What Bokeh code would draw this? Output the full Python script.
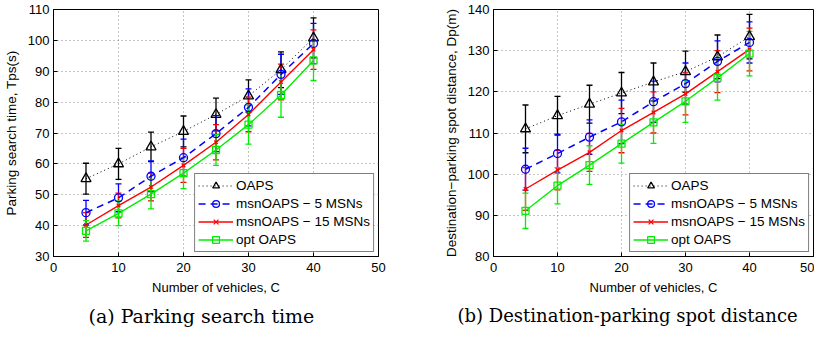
from bokeh.plotting import figure
from bokeh.models import (ColumnDataSource, Whisker, TeeHead, Range1d, Legend,
                          LegendItem, Title, FixedTicker)
from bokeh.layouts import row
from bokeh.embed import file_html
from bokeh.resources import INLINE

# ---------------- data ----------------
vehicles = [5, 10, 15, 20, 25, 30, 35, 40]

series_labels = ["OAPS", "msnOAPS \u2212 5 MSNs", "msnOAPS \u2212 15 MSNs", "opt OAPS"]

# (a) parking search time, Tps(s)
oaps_t = [55.2, 60.0, 65.5, 70.5, 76.0, 82.0, 90.5, 100.8]
oaps_t_err = [5.0, 5.0, 4.8, 5.0, 5.3, 5.2, 5.8, 6.5]
msn5_t = [44.2, 49.0, 56.0, 62.0, 69.8, 78.3, 89.0, 99.0]
msn5_t_err = [4.0, 4.5, 5.0, 6.0, 5.8, 6.0, 6.5, 6.5]
msn15_t = [40.2, 46.5, 52.5, 59.5, 67.0, 76.0, 86.5, 97.0]
msn15_t_err = [4.0, 4.0, 4.5, 5.5, 5.7, 5.6, 5.8, 6.4]
opt_t = [38.3, 44.0, 50.2, 57.0, 64.5, 72.7, 82.3, 93.5]
opt_t_err = [3.3, 4.0, 4.8, 5.0, 5.0, 6.3, 7.2, 6.5]

# (b) destination-parking spot distance, Dp(m)
oaps_d = [111.0, 114.2, 117.0, 119.7, 122.4, 124.9, 128.5, 133.4]
oaps_d_err = [5.8, 4.7, 4.6, 5.0, 4.6, 5.0, 5.3, 5.4]
msn5_d = [101.2, 105.0, 109.0, 112.7, 117.6, 122.0, 127.4, 132.0]
msn5_d_err = [5.1, 4.7, 4.2, 5.3, 5.0, 5.0, 5.0, 5.0]
msn15_d = [96.4, 101.0, 105.3, 110.6, 115.0, 119.5, 124.9, 130.3]
msn15_d_err = [5.2, 4.8, 4.6, 5.4, 5.0, 5.1, 5.1, 5.2]
opt_d = [91.1, 97.2, 102.2, 107.4, 112.6, 117.7, 123.4, 129.3]
opt_d_err = [4.3, 4.4, 4.7, 4.7, 5.1, 5.1, 5.4, 5.4]

x_ticks = [0, 10, 20, 30, 40, 50]
y_ticks_t = [30, 40, 50, 60, 70, 80, 90, 100, 110]
y_ticks_d = [80, 90, 100, 110, 120, 130, 140]

SANS = "Liberation Sans"
SERIF = "DejaVu Serif"

styles = [
    dict(color="black", dash="1 3", width=1.0, marker="triangle", size=10),
    dict(color="#0000ff", dash="7 5", width=1.5, marker="circle", size=8),
    dict(color="#ff0000", dash="solid", width=1.4, marker="x", size=5),
    dict(color="#00ee00", dash="solid", width=1.4, marker="square", size=7),
]


def make_plot(means, errs, ylo, yhi, yticks, ylabel, caption, width,
              border_left, border_right, cap_offset, cap_size):
    p = figure(width=width, height=332, output_backend="svg",
               toolbar_location=None,
               x_range=Range1d(0, 50), y_range=Range1d(ylo, yhi),
               min_border_left=border_left, min_border_right=border_right,
               min_border_top=9, min_border_bottom=71)
    p.background_fill_color = "white"
    p.border_fill_color = "white"
    p.outline_line_color = "black"
    p.outline_line_width = 1
    for ax in (p.xaxis[0], p.yaxis[0]):
        ax.major_tick_in = 4
        ax.major_tick_out = 0
        ax.minor_tick_in = 0
        ax.minor_tick_out = 0
        ax.axis_line_color = "black"
        ax.major_tick_line_color = "black"
        ax.major_label_text_font = SANS
        ax.major_label_text_font_size = "13px"
        ax.major_label_text_color = "black"
        ax.axis_label_text_font = SANS
        ax.axis_label_text_font_style = "normal"
        ax.axis_label_text_color = "black"
    p.xaxis.axis_label_text_font_size = "13px"
    p.yaxis.axis_label_text_font_size = "13.5px"
    p.xaxis.ticker = FixedTicker(ticks=x_ticks)
    p.yaxis.ticker = FixedTicker(ticks=yticks)
    p.xaxis.axis_label = "Number of vehicles, C"
    p.yaxis.axis_label = ylabel
    p.xaxis.major_label_standoff = 6
    p.xaxis.axis_label_standoff = 5
    p.yaxis.major_label_standoff = 4
    p.yaxis.axis_label_standoff = 6
    p.grid.grid_line_color = "#8a8a8a"
    p.grid.grid_line_dash = "1 3"
    p.grid.grid_line_width = 1

    items = []
    for lab, m, e, st in zip(series_labels, means, errs, styles):
        src = ColumnDataSource(dict(
            x=vehicles, y=m,
            lo=[a - b for a, b in zip(m, e)],
            hi=[a + b for a, b in zip(m, e)]))
        w = Whisker(base="x", lower="lo", upper="hi", source=src,
                    line_color=st["color"], line_width=1.3,
                    upper_head=TeeHead(size=6, line_color=st["color"], line_width=1.3),
                    lower_head=TeeHead(size=6, line_color=st["color"], line_width=1.3))
        p.add_layout(w)
        ln = p.line("x", "y", source=src, line_color=st["color"],
                    line_dash=st["dash"], line_width=st["width"])
        sc = p.scatter("x", "y", source=src, marker=st["marker"], size=st["size"],
                       line_color=st["color"], fill_color=None, line_width=1.3)
        items.append(LegendItem(label=lab, renderers=[ln, sc]))

    leg = Legend(items=items, location="bottom_right",
                 label_text_font=SANS, label_text_font_size="13.5px",
                 label_text_color="black",
                 glyph_width=35, glyph_height=17, label_height=17,
                 label_standoff=3, spacing=1, padding=3, margin=4,
                 border_line_color="black", border_line_width=1,
                 background_fill_color="white", background_fill_alpha=1)
    p.add_layout(leg)

    t = Title(text=caption, align="left", offset=cap_offset,
              text_font=SERIF, text_font_size=cap_size,
              text_font_style="normal", text_color="black", standoff=11)
    p.add_layout(t, "below")
    return p


pa = make_plot([oaps_t, msn5_t, msn15_t, opt_t],
               [oaps_t_err, msn5_t_err, msn15_t_err, opt_t_err],
               30, 110, y_ticks_t, "Parking search time, Tps(s)",
               "(a) Parking search time", 410, 53, 32, 35, "19px")
pb = make_plot([oaps_d, msn5_d, msn15_d, opt_d],
               [oaps_d_err, msn5_d_err, msn15_d_err, opt_d_err],
               80, 140, y_ticks_d, "Destination\u2212parking spot distance, Dp(m)",
               "(b) Destination-parking spot distance", 404, 83, 1, -36, "18px")

layout = row(pa, pb, spacing=0)
open("out.html", "w").write(file_html(layout, INLINE))
